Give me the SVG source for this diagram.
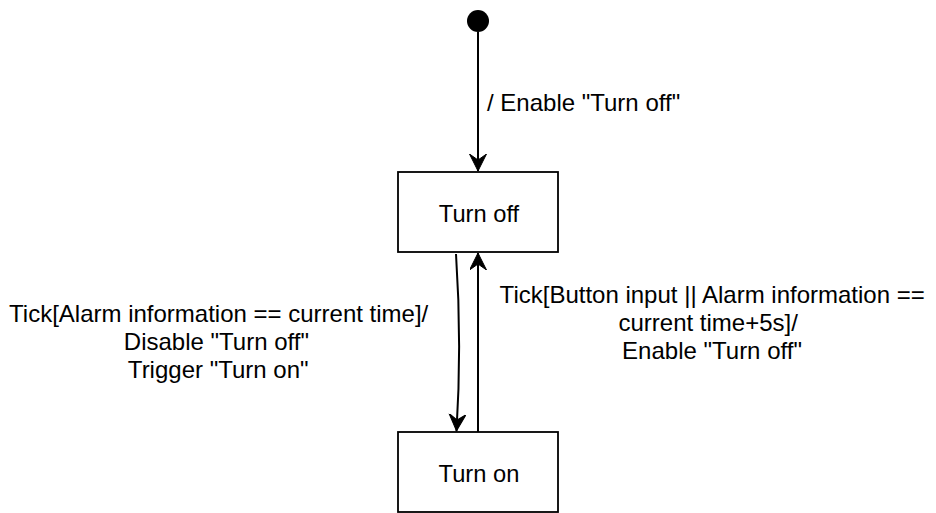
<svg xmlns="http://www.w3.org/2000/svg" width="936" height="513" viewBox="0 0 936 513">
  <style>
    text { font-family: "Liberation Sans", Arial, sans-serif; font-size: 23.7px; fill: #000; }
    .lbl { font-size: 24px; }
    .state { fill: #fff; stroke: #000; stroke-width: 1.8; }
    .edge { fill: none; stroke: #000; stroke-width: 2; }
  </style>
  <defs>
    <marker id="arrow" markerUnits="userSpaceOnUse" markerWidth="20" markerHeight="20" refX="17" refY="8.5" orient="auto">
      <path d="M0,0 L17,8.5 L0,17 L6,8.5 Z" fill="#000" stroke="#000" stroke-width="1"/>
    </marker>
  </defs>
  <rect x="0" y="0" width="936" height="513" fill="#fff"/>

  <g id="connectors">
    <path id="e-init" class="edge" d="M478,32 L478,171" marker-end="url(#arrow)"/>
    <path id="e-off-on" class="edge" d="M456,254 Q462,343 456.5,431" marker-end="url(#arrow)"/>
    <path id="e-on-off" class="edge" d="M478,432 L478,253" marker-end="url(#arrow)"/>
  </g>

  <g id="labels">
    <text class="lbl" x="487" y="111">/ Enable "Turn off"</text>
    <text class="lbl" text-anchor="middle">
      <tspan x="222" y="322">Tick[Alarm information == current time]/</tspan>
      <tspan x="219.7" y="350">Disable "Turn off"</tspan>
      <tspan x="218.2" y="377.5">Trigger "Turn on"</tspan>
    </text>
    <text class="lbl" text-anchor="middle">
      <tspan x="715.5" y="303">Tick[Button input || Alarm information ==</tspan>
      <tspan x="711.5" y="331">current time+5s]/</tspan>
      <tspan x="712" y="358.5">Enable "Turn off"</tspan>
    </text>
  </g>

  <g id="initial">
    <circle cx="478" cy="21" r="11" fill="#000"/>
  </g>

  <g id="turn-off">
    <rect class="state" x="398" y="172" width="160" height="80"/>
    <text x="479" y="222" text-anchor="middle">Turn off</text>
  </g>

  <g id="turn-on">
    <rect class="state" x="398" y="432" width="160" height="80"/>
    <text x="479" y="482" text-anchor="middle">Turn on</text>
  </g>
</svg>
